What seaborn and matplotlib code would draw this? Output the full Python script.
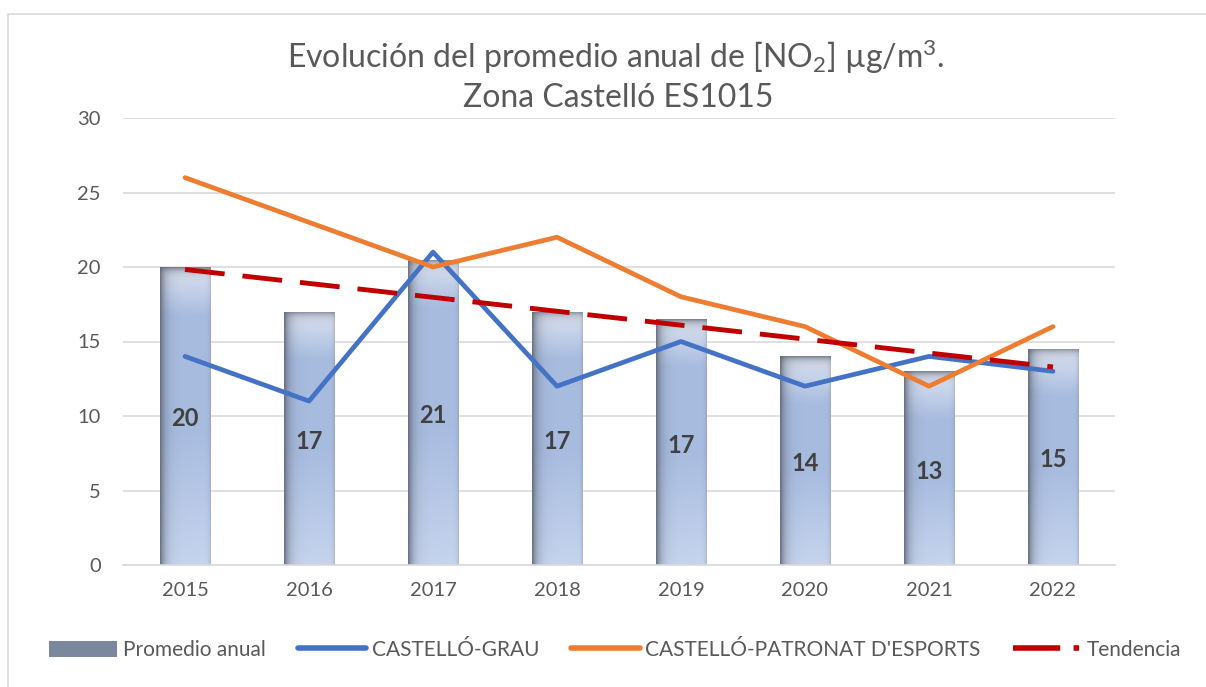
import numpy as np
import pandas as pd
import matplotlib
matplotlib.use("Agg")
import matplotlib.pyplot as plt
import seaborn as sns
from matplotlib.patches import Patch, Rectangle
from matplotlib.lines import Line2D

# ---------- data ----------
years = ["2015", "2016", "2017", "2018", "2019", "2020", "2021", "2022"]
promedio = [20, 17, 20.5, 17, 16.5, 14, 13, 14.5]
grau = [14, 11, 21, 12, 15, 12, 14, 13]
patronat = [26, 23, 20, 22, 18, 16, 12, 16]

BLUE = "#4472C4"
ORANGE = "#ED7D31"
RED = "#C00000"
GRID = "#d9d9d9"
TXT = "#595959"

sns.set_theme(style="white")
plt.rcParams["font.family"] = ["Lato", "DejaVu Sans"]
plt.rcParams["mathtext.fontset"] = "custom"
plt.rcParams["mathtext.rm"] = "Lato"
plt.rcParams["mathtext.it"] = "Lato:italic"
plt.rcParams["mathtext.bf"] = "Lato:bold"

W, H = 1206, 687
fig = plt.figure(figsize=(W / 100, H / 100), dpi=100)
ax = fig.add_axes([123 / W, 1 - 565 / H, (1115 - 123) / W, (565 - 118) / H])

df = pd.DataFrame({"Año": years, "Promedio anual": promedio})
sns.barplot(data=df, x="Año", y="Promedio anual", ax=ax, width=0.41,
            color="#a9bde0", saturation=1, zorder=2)


def hex2rgb(h):
    h = h.lstrip("#")
    return np.array([int(h[i:i + 2], 16) for i in (0, 2, 4)]) / 255.0


# gradient fill for each bar (cylinder-ish look like the Excel original)
c_mid = hex2rgb("#a8bce0")
c_top = hex2rgb("#e8ecf6")
c_bot = hex2rgb("#c6d4ed")
c_dark = hex2rgb("#5d6472")
for p in ax.patches:
    x0, w, h = p.get_x(), p.get_width(), p.get_height()
    if h <= 0:
        continue
    n = 400
    depth = np.linspace(0, h, n)[:, None]          # distance from top, data units
    t_top = np.clip(depth / 3.2, 0, 1) ** 0.8
    col = c_top + (c_mid - c_top) * t_top[..., None]
    frac = depth / h
    t_bot = np.clip((frac - 0.55) / 0.45, 0, 1)
    col = col + (c_bot - col) * t_bot[..., None]
    col = np.repeat(col, 100, axis=1)
    xx = np.linspace(0, 1, 100)[None, :]
    # dark top rim
    rim = np.exp(-depth / 0.3)
    col = col + (c_dark - col) * (0.8 * rim)[..., None]
    # dark left edge
    side = np.exp(-xx / 0.1) * 0.9
    col = col + (c_dark - col) * side[..., None]
    # faint right edge
    rside = np.exp(-(1 - xx) / 0.03) * 0.25
    col = col + (c_dark - col) * rside[..., None]
    im = ax.imshow(np.clip(col, 0, 1), extent=[x0, x0 + w, 0, h], origin="upper",
                   aspect="auto", zorder=2.5, interpolation="bilinear")
    im.set_clip_path(p)

xpos = np.arange(len(years))
trend = np.polyval(np.polyfit(xpos, promedio, 1), xpos)

ax.plot(xpos, grau, color=BLUE, lw=3.4, zorder=4, solid_capstyle="round")
ax.plot(xpos, patronat, color=ORANGE, lw=3.4, zorder=4, solid_capstyle="round")
ax.plot(xpos, trend, color=RED, lw=3.5, ls=(0, (8.2, 3.7)), zorder=4.5)

# value labels in the middle of each bar
for i, v in enumerate(promedio):
    ax.text(i, v / 2 - 0.2, f"{int(np.floor(v + 0.5))}", ha="center", va="center",
            fontsize=17, fontweight="bold", color="#404040", zorder=5)

ax.set_xlim(-0.5, len(years) - 0.5)
ax.set_ylim(0, 30)
ax.set_yticks(range(0, 31, 5))
ax.set_xlabel("")
ax.set_ylabel("")
ax.yaxis.grid(True, color=GRID, lw=1.2, zorder=0)
ax.set_axisbelow(True)
for s in ["top", "left", "right"]:
    ax.spines[s].set_visible(False)
ax.spines["bottom"].set_color(GRID)
ax.spines["bottom"].set_linewidth(1.2)
ax.tick_params(axis="y", length=0, pad=16, labelsize=14.5, colors=TXT)
ax.tick_params(axis="x", length=0, pad=12, labelsize=14.5, colors=TXT)

# title
fig.text(616 / W, 1 - 68 / H, "Evolución del promedio anual de [NO$_2$] µg/m$^3$.",
         ha="center", va="baseline", fontsize=23, color=TXT)
fig.text(618 / W, 1 - 107 / H, "Zona Castelló ES1015",
         ha="center", va="baseline", fontsize=23, color=TXT)

# legend
handles = [
    Patch(facecolor="#7b879c", edgecolor="none"),
    Line2D([], [], color=BLUE, lw=4, solid_capstyle="round"),
    Line2D([], [], color=ORANGE, lw=4, solid_capstyle="round"),
    Line2D([], [], color=RED, lw=4, ls=(0, (8.5, 2.4, 1, 5))),
]
labels = ["Promedio anual", "CASTELLÓ-GRAU", "CASTELLÓ-PATRONAT D'ESPORTS", "Tendencia"]
leg = fig.legend(handles, labels, loc="center", bbox_to_anchor=(0.51, 1 - 650 / H),
                 ncol=4, frameon=False, fontsize=15, handlelength=3.3,
                 handleheight=0.8, columnspacing=1.55, handletextpad=0.25,
                 borderaxespad=0, borderpad=0)
for t in leg.get_texts():
    t.set_color(TXT)

# chart border (cropped on the right and bottom)
fig.patches.append(Rectangle((8 / W, -0.1), 1.2, 1.1 - 14 / H, transform=fig.transFigure,
                             fill=False, edgecolor=GRID, lw=1.2, zorder=0))

fig.savefig("out.png", dpi=100)
